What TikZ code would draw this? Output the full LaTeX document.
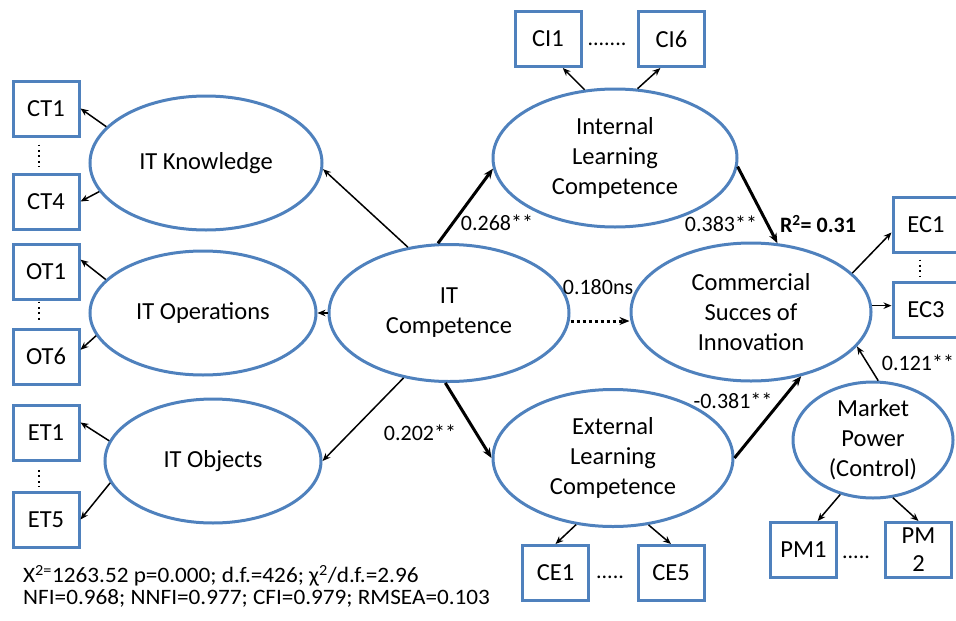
\documentclass[tikz,border=0pt]{standalone}
\usepackage{fontspec}
\setmainfont{Carlito}
\usepackage{xcolor}
\usetikzlibrary{shapes,arrows,arrows.meta,positioning}
\tikzset{>={Stealth[length=8pt,width=6.5pt]}}
\definecolor{ovalblue}{RGB}{79,129,189}

\begin{document}
\begin{tikzpicture}[x=1pt,y=-1pt,
                          latent/.style={ellipse, draw=ovalblue, line width=3pt, inner sep=0pt, align=center, font=\fontsize{24.5}{30}\selectfont},
                          item/.style={rectangle, draw=ovalblue, line width=3pt, minimum width=66pt, minimum height=55pt, inner sep=0pt, align=center, font=\fontsize{24.5}{28}\selectfont},
                          load/.style={->, line width=1.5pt, black},
                          strong/.style={-{Stealth[length=10pt,width=8pt]}, line width=3pt, black},
                          weakarr/.style={-{Stealth[length=10pt,width=8pt]}, line width=3pt, black, dash pattern=on 3pt off 3pt},
                          coef/.style={inner sep=0pt, font=\fontsize{22}{24}\selectfont},
                          vdots/.style={line width=1.8pt, dash pattern=on 1.8pt off 3.6pt},
                          dotrow/.style={anchor=base, inner sep=0pt, font=\fontsize{22}{24}\selectfont},
                         ]

\useasboundingbox (0,0) rectangle (956,621);

% indicator boxes
\node[item] (ct1) at (46,108.5) {CT1};
\node[item] (ct4) at (46,201.5) {CT4};
\node[item] (ot1) at (46,271.5) {OT1};
\node[item] (ot6) at (46,356.5) {OT6};
\node[item] (et1) at (46,433) {ET1};
\node[item] (et5) at (46,519.5) {ET5};
\node[item] (ci1) at (548,39) {CI1};
\node[item] (ci6) at (671.5,39) {CI6};
\node[item] (ec1) at (926,224.5) {EC1};
\node[item] (ec3) at (926,309.5) {EC3};
\node[item] (pm1) at (803.5,550) {PM1};
\node[item] (pm2) at (918.5,550) {PM\\2};
\node[item] (ce1) at (555.5,573) {CE1};
\node[item] (ce5) at (671,573) {CE5};

% latent constructs
\node[latent, minimum width=232pt, minimum height=134pt] (itk) at (206,163) {IT Knowledge};
\node[latent, minimum width=226pt, minimum height=124pt] (ito) at (203,313) {IT Operations};
\node[latent, minimum width=216pt, minimum height=124pt] (itj) at (213,461) {IT Objects};
\node[latent, minimum width=240pt, minimum height=137pt] (itc) at (449,313) {IT\\Competence};
\node[latent, minimum width=244pt, minimum height=138pt] (ilc) at (615,158) {Internal\\Learning\\Competence};
\node[latent, minimum width=240pt, minimum height=137pt] (elc) at (613,458) {External\\Learning\\Competence};
\node[latent, minimum width=240pt, minimum height=138pt] (csi) at (751,312) {Commercial\\Succes of\\Innovation};
\node[latent, minimum width=160pt, minimum height=116pt] (mkt) at (873,440) {Market\\Power\\(Control)};

% dots between indicators
\draw[vdots] ([shift={(-7pt,-7pt)}]ct1.south) -- ([shift={(-7pt,6pt)}]ct4.north);
\draw[vdots] ([shift={(-7pt,-1pt)}]ot1.south) -- ([shift={(-7pt,6pt)}]ot6.north);
\draw[vdots] ([shift={(-7pt,-8pt)}]et1.south) -- ([shift={(-7pt,4pt)}]et5.north);
\draw[vdots] ([shift={(-6pt,-6pt)}]ec1.south) -- ([shift={(-6pt,4pt)}]ec3.north);
\node[dotrow] (cidots) at (607,45) {.......};
\node[dotrow] (cedots) at (610,578) {.....};
\node[dotrow] (pmdots) at (856,558) {.....};

% measurement arrows
\draw[load] (itk.160) -- (ct1.east);
\draw[load] (itk.195) -- (ct4.east);
\draw[load] (ito.161) -- (ot1.19);
\draw[load] (ito.192) -- (ot6.11);
\draw[load] (itj.169) -- (et1.17);
\draw[load] (itj.192) -- (et5.east);
\draw[load] (ilc.114) -- (ci1.-63);
\draw[load] (ilc.72) -- (ci6.249);
\draw[load] (elc.241) -- (ce1.north);
\draw[load] (elc.298) -- (ce5.north);
\draw[load] (csi.21) -- (ec1.193);
\draw[load] (csi.3) -- (csi.3 -| ec3.west);
\draw[load] (mkt.239) -- (pm1.64);
\draw[load] (mkt.289) -- (pm2.north);

% structural paths
\draw[load] (itc.122) -- (itk.-3);
\draw[load] (itc.west) -- (ito.east);
\draw[load] (itc.235) -- (itj.east);
\draw[strong] (itc.99) -- (ilc.185);
\draw[strong] (itc.267) -- (elc.west);
\draw[weakarr] ([yshift=-8pt]itc.east) -- ([yshift=-8pt]itc.east -| csi.west);
\draw[strong] (ilc.-4) -- (csi.69);
\draw[strong] (elc.east) -- (csi.-52);
\draw[load] (mkt.85) -- (csi.-18);

% coefficients
\node[coef] (b268) at (497,223) {0.268**};
\node[coef] (b383) at (721,224) {0.383**};
\node[coef, font=\fontsize{22}{24}\selectfont\bfseries] (rsq) at (818,224) {R\textsuperscript{2}= 0.31};
\node[coef] (b180) at (598,287) {0.180ns};
\node[coef] (b202) at (420,433) {0.202**};
\node[coef] (b381) at (733,401) {-0.381**};
\node[coef] (b121) at (918,363) {0.121**};

% fit indices
\node[coef, anchor=base west] (fit1) at (23,582.7) {\scalebox{1.055}[1]{X\textsuperscript{2=}1263.52 p=0.000; d.f.=426; χ\textsuperscript{2}/d.f.=2.96}};
\node[coef, anchor=base west] (fit2) at (23,604.3) {\scalebox{1.055}[1]{NFI=0.968; NNFI=0.977; CFI=0.979; RMSEA=0.103}};

\end{tikzpicture}
\end{document}
